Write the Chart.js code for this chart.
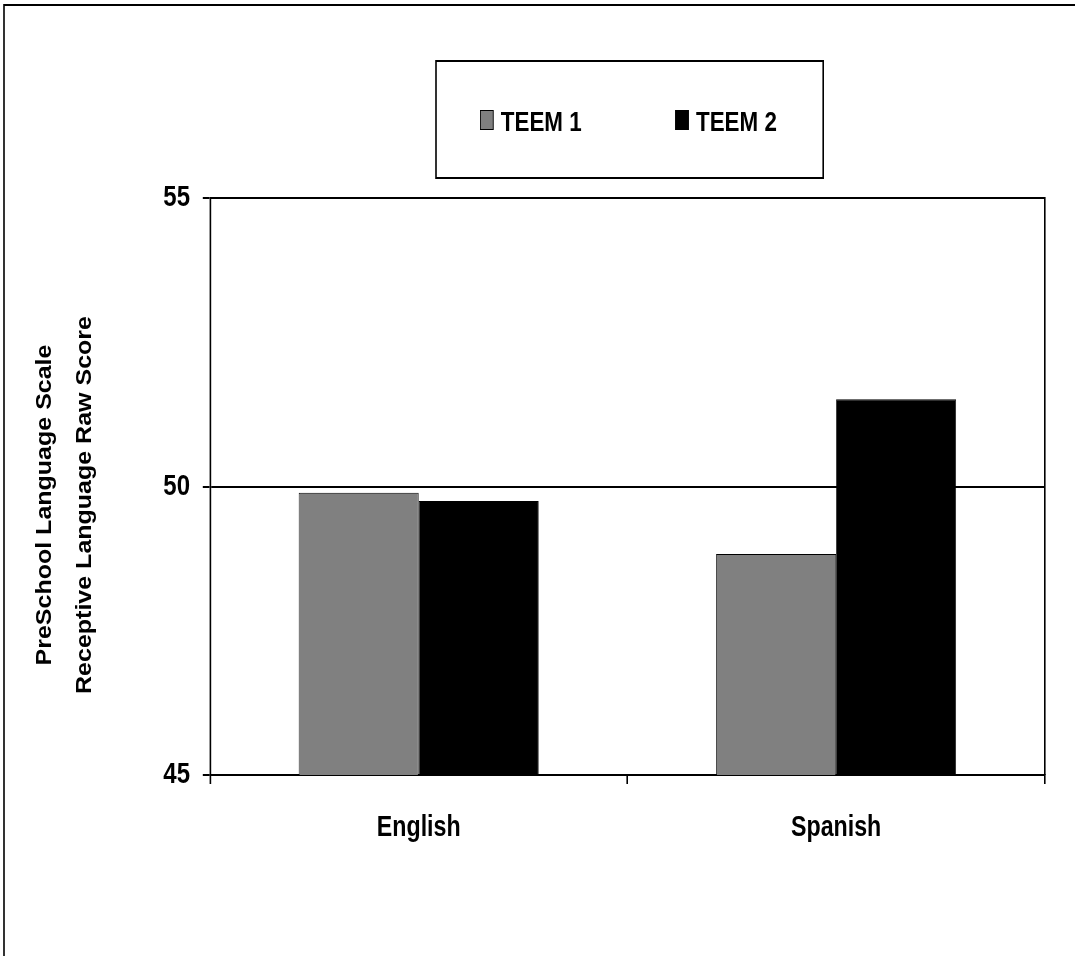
<!DOCTYPE html>
<html>
<head>
<meta charset="utf-8">
<style>
  html, body { margin: 0; padding: 0; overflow: hidden; background: #fff; }
  #wrap { width: 1075px; height: 956px; overflow: hidden; }
  canvas { display: block; }
</style>
<script src="https://cdn.jsdelivr.net/npm/chart.js@4.4.1/dist/chart.umd.min.js"></script>
</head>
<body>
<div id="wrap"><canvas id="c" width="1344" height="956"></canvas></div>
<script>
// Chart data
const categories = ['English', 'Spanish'];
const seriesNames = ['TEEM 1', 'TEEM 2'];
const teem1 = [49.89, 48.83];
const teem2 = [49.75, 51.51];
const yTicks = [45, 50, 55];
const yTitle = ['PreSchool Language Scale', 'Receptive Language Raw Score'];
const seriesColors = ['#808080', '#000000'];

// The drawing is laid out on a wider logical canvas and squeezed horizontally.
const SX = 0.8;
const W = 1344, H = 956;
const FONT = "'Liberation Sans', Arial, Helvetica, sans-serif";
const PLOT = { left: 262.5, right: 1306, top: 198, bottom: 775 };

const squeeze = {
  id: 'squeeze',
  beforeDraw(chart) {
    chart.ctx.setTransform(SX, 0, 0, 1, 0, 0);
  }
};

const decorations = {
  id: 'decorations',
  afterDraw(chart) {
    const ctx = chart.ctx;
    const area = chart.chartArea;
    ctx.save();
    ctx.strokeStyle = '#000';
    ctx.lineWidth = 2;

    // outer frame
    ctx.beginPath();
    ctx.moveTo(5, H + 5);
    ctx.lineTo(5, 5);
    ctx.lineTo(W + 5, 5);
    ctx.stroke();

    // top and right edges of the plot area
    ctx.beginPath();
    ctx.moveTo(area.left, area.top);
    ctx.lineTo(area.right, area.top);
    ctx.lineTo(area.right, area.bottom);
    ctx.stroke();

    // legend box
    const lb = { x: 545, y: 61, w: 484, h: 117 };
    ctx.fillStyle = '#fff';
    ctx.fillRect(lb.x, lb.y, lb.w, lb.h);
    ctx.strokeRect(lb.x, lb.y, lb.w, lb.h);

    const items = [
      { sx: 600, tx: 626 },
      { sx: 844, tx: 870 }
    ];
    ctx.font = 'bold 28px ' + FONT;
    ctx.textBaseline = 'alphabetic';
    ctx.textAlign = 'left';
    chart.data.datasets.forEach((ds, i) => {
      const it = items[i];
      ctx.fillStyle = ds.backgroundColor;
      ctx.fillRect(it.sx, 110, 17, 20);
      ctx.lineWidth = 1;
      ctx.strokeStyle = '#000';
      ctx.strokeRect(it.sx + 0.5, 110.5, 16, 19);
      ctx.fillStyle = '#000';
      ctx.fillText(ds.label, it.tx, 131);
    });

    // y-axis title, two lines (slightly less squeezed than the rest)
    ctx.font = 'bold 25px ' + FONT;
    ctx.textAlign = 'center';
    ctx.textBaseline = 'middle';
    ctx.fillStyle = '#000';
    const xs = [56, 106];
    yTitle.forEach((line, i) => {
      ctx.save();
      ctx.translate(xs[i], 505);
      ctx.scale(1.12, 1);
      ctx.rotate(-Math.PI / 2);
      ctx.fillText(line, 0, 0);
      ctx.restore();
    });
    ctx.restore();
  }
};

new Chart(document.getElementById('c'), {
  type: 'bar',
  data: {
    labels: categories,
    datasets: [
      { label: seriesNames[0], data: teem1, backgroundColor: seriesColors[0] },
      { label: seriesNames[1], data: teem2, backgroundColor: seriesColors[1] }
    ]
  },
  options: {
    responsive: false,
    animation: false,
    events: [],
    devicePixelRatio: 1,
    layout: { padding: { left: 0, top: PLOT.top, right: W - PLOT.right, bottom: 0 } },
    datasets: {
      bar: {
        categoryPercentage: 0.575,
        barPercentage: 1,
        borderWidth: 1,
        borderColor: '#000'
      }
    },
    plugins: {
      legend: { display: false },
      tooltip: { enabled: false },
      title: { display: false }
    },
    scales: {
      x: {
        offset: true,
        grid: {
          offset: true,
          drawOnChartArea: false,
          drawTicks: true,
          tickLength: 9,
          color: '#000',
          lineWidth: 2
        },
        border: { display: true, color: '#000', width: 2 },
        ticks: {
          color: '#000',
          font: { family: FONT, size: 29, weight: 'bold' },
          padding: 27,
          maxRotation: 0
        },
        afterFit(s) { s.height = H - PLOT.bottom; }
      },
      y: {
        min: yTicks[0],
        max: yTicks[yTicks.length - 1],
        afterBuildTicks(s) { s.ticks = yTicks.map(v => ({ value: v })); },
        grid: {
          drawOnChartArea: true,
          drawTicks: true,
          tickLength: 9,
          color: '#000',
          lineWidth: 2
        },
        border: { display: true, color: '#000', width: 2 },
        ticks: {
          color: '#000',
          font: { family: FONT, size: 30, weight: 'bold' },
          padding: 16
        },
        afterFit(s) { s.width = PLOT.left; }
      }
    }
  },
  plugins: [squeeze, decorations]
});
</script>
</body>
</html>
